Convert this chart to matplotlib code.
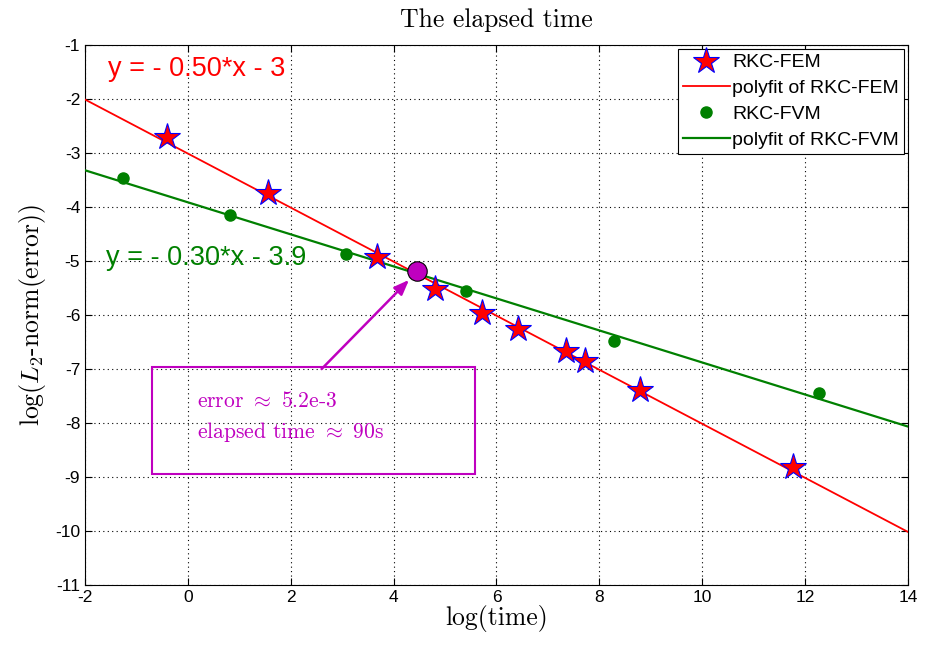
import numpy as np
import matplotlib
matplotlib.use("Agg")
import matplotlib.pyplot as plt

plt.rcParams['mathtext.fontset'] = 'cm'
plt.rcParams['axes.unicode_minus'] = False
plt.rcParams['font.family'] = ['Liberation Sans', 'DejaVu Sans']

# data (log(time), log(error))
fem_x = [-0.40, 1.56, 3.68, 4.80, 5.72, 6.42, 7.35, 7.72, 8.79, 11.76]
fem_y = [-2.70, -3.74, -4.93, -5.52, -5.96, -6.26, -6.67, -6.85, -7.39, -8.81]
fvm_x = [-1.26, 0.82, 3.07, 5.41, 8.28, 12.27]
fvm_y = [-3.46, -4.15, -4.87, -5.56, -6.48, -7.44]
fit_range = [-2, 14]
sel_x, sel_y = 4.45, -5.19

fig = plt.figure(figsize=(9.32, 6.49), dpi=100)
ax = fig.add_axes([0.0912, 0.0986, 0.8830, 0.8321])

xf = np.array(fit_range, dtype=float)
pf = np.polyfit(fem_x, fem_y, 1)
pv = np.polyfit(fvm_x, fvm_y, 1)

ax.plot(fem_x, fem_y, linestyle='none', marker='*', markersize=20,
        markerfacecolor='red', markeredgecolor='blue', markeredgewidth=0.8,
        label='RKC-FEM', zorder=4)
ax.plot(xf, np.polyval(pf, xf), color='red', lw=1.3, label='polyfit of RKC-FEM', zorder=3)
ax.plot(fvm_x, fvm_y, linestyle='none', marker='o', markersize=8,
        markerfacecolor='green', markeredgecolor='green',
        label='RKC-FVM', zorder=4)
ax.plot(xf, np.polyval(pv, xf), color='green', lw=1.6, label='polyfit of RKC-FVM', zorder=3)

ax.plot([sel_x], [sel_y], linestyle='none', marker='o', markersize=14,
        markerfacecolor='#bf00bf', markeredgecolor='black', markeredgewidth=0.8, zorder=5)

ax.set_xlim(-2, 14)
ax.set_ylim(-11, -1)
ax.set_xticks(np.arange(-2, 15, 2))
ax.set_yticks(np.arange(-11, 0, 1))
ax.tick_params(direction='in', top=True, right=True, labelsize=12.5, length=5, width=0.8)
ax.grid(True, linestyle=(0, (1, 3)), color='black', lw=0.8)
for s in ax.spines.values():
    s.set_linewidth(0.8)

ax.set_title('The elapsed time', family='cmr10', fontsize=18.5, pad=13)
ax.set_xlabel('log(time)', family='cmr10', fontsize=18.5, labelpad=0)
ax.set_ylabel(r'log($L_2$-norm(error))', family='cmr10', fontsize=18.5, labelpad=5)

ax.text(-1.55, -1.45, 'y = - 0.50*x - 3', color='red', fontsize=19.5, va='center')
ax.text(-1.6, -4.95, 'y = - 0.30*x - 3.9', color='green', fontsize=19.5, va='center')

# annotation box
ax.add_patch(plt.Rectangle((-0.7, -8.95), 6.28, 1.98, fill=False,
                           edgecolor='#bf00bf', lw=1.5, zorder=3))
ax.text(0.18, -7.6, r'error $\approx$ 5.2e-3', family='cmr10', color='#bf00bf',
        fontsize=15.5, va='center')
ax.text(0.18, -8.17, r'elapsed time $\approx$ 90s', family='cmr10', color='#bf00bf',
        fontsize=15.5, va='center')
ax.annotate('', xy=(4.30, -5.35), xytext=(2.60, -7.0),
            arrowprops=dict(arrowstyle='-|>,head_length=0.9,head_width=0.35',
                            color='#bf00bf', lw=1.8, shrinkA=0, shrinkB=0))

leg = ax.legend(loc='upper right', fontsize=14, frameon=True, fancybox=False,
                edgecolor='black', framealpha=1, borderpad=0.25, labelspacing=0.42,
                handlelength=2.4, handletextpad=0.15, borderaxespad=0.2)
leg.get_frame().set_linewidth(0.8)

fig.savefig('out.png', dpi=100)
